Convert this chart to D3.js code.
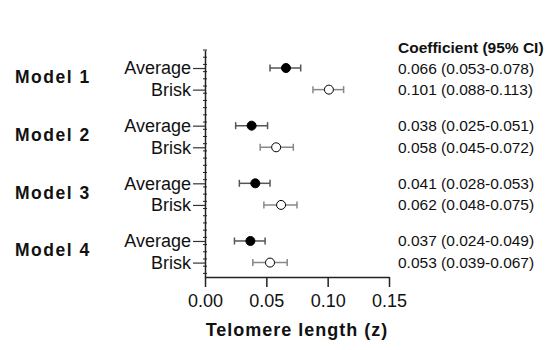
<!DOCTYPE html>
<html lang="en">
<head>
  <meta charset="UTF-8">
  <title>Telomere length forest plot</title>
  <script src="https://cdn.jsdelivr.net/npm/d3@7"></script>
  <style>
    body { margin: 0; background: #fff; }
    text { font-family: "Liberation Sans", Arial, sans-serif; fill: #111; }
  </style>
</head>
<body>
<svg></svg>
<script>
  const width = 554, height = 350

  const models = ['Model 1', 'Model 2', 'Model 3', 'Model 4']
  const groups = ['Average', 'Brisk']
  // one value per row: Model 1 Average, Model 1 Brisk, Model 2 Average ...
  const coef  = [0.066, 0.101, 0.038, 0.058, 0.041, 0.062, 0.037, 0.053]
  const lower = [0.053, 0.088, 0.025, 0.045, 0.028, 0.048, 0.024, 0.039]
  const upper = [0.078, 0.113, 0.051, 0.072, 0.053, 0.075, 0.049, 0.067]
  const xTicks = [0, 0.05, 0.10, 0.15]

  const rows = coef.map((c, i) => ({
    model: Math.floor(i / 2),
    group: groups[i % 2],
    coef: c, lo: lower[i], hi: upper[i],
    pos: 2.5 + 8 * Math.floor(i / 2) + 3 * (i % 2)
  }))

  const svg = d3.select('svg')
      .attr('width', width)
      .attr('height', height)
      .attr('viewBox', [0, 0, width, height])

  const x = d3.scaleLinear().domain([0, 0.15]).range([205, 389])
  const y = d3.scaleLinear().domain([0, 31.5]).range([50, 277])

  // x axis
  svg.append('g')
      .attr('transform', `translate(0,${y.range()[1]})`)
      .call(d3.axisBottom(x).tickValues(xTicks).tickFormat(d3.format('.2f')).tickSize(10).tickPadding(7).tickSizeOuter(0))
      .call(g => g.select('.domain').attr('stroke', '#222').attr('stroke-width', 1.5))
      .call(g => g.selectAll('.tick line').attr('stroke', '#222').attr('stroke-width', 1.5))
      .call(g => g.selectAll('.tick text').attr('font-size', 18).attr('fill', '#111')
          .style('font-family', '"Liberation Sans", Arial, sans-serif'))

  // y axis minor ticks
  svg.append('g')
      .selectAll('line')
      .data(d3.range(0, 32))
      .join('line')
      .attr('x1', x(0) - 2).attr('x2', x(0) + 2)
      .attr('y1', d => y(d)).attr('y2', d => y(d))
      .attr('stroke', '#222')

  // y axis with row labels
  svg.append('g')
      .attr('transform', `translate(${x(0)},0)`)
      .call(d3.axisLeft(y).tickValues(rows.map(d => d.pos))
          .tickFormat((d, i) => rows[i].group).tickSize(12).tickPadding(2).tickSizeOuter(0))
      .call(g => g.select('.domain').attr('stroke', '#222').attr('stroke-width', 1.5))
      .call(g => g.selectAll('.tick line').attr('stroke', '#333').attr('stroke-width', 1.2))
      .call(g => g.selectAll('.tick text').attr('font-size', 18).attr('fill', '#111')
          .style('font-family', '"Liberation Sans", Arial, sans-serif'))

  // model labels
  svg.append('g')
      .selectAll('text')
      .data(models)
      .join('text')
      .attr('x', 15)
      .attr('y', (d, i) => y(4 + 8 * i) + 4.5)
      .attr('font-size', 17.5)
      .attr('font-weight', 'bold')
      .attr('letter-spacing', 1.5)
      .text(d => d)

  // error bars
  const bars = svg.append('g')
      .selectAll('g')
      .data(rows)
      .join('g')
      .attr('stroke', d => d.group === 'Average' ? '#555' : '#888')
      .attr('stroke-width', 1.5)
  bars.append('line')
      .attr('x1', d => x(d.lo)).attr('x2', d => x(d.hi))
      .attr('y1', d => y(d.pos)).attr('y2', d => y(d.pos))
  bars.append('line')
      .attr('x1', d => x(d.lo)).attr('x2', d => x(d.lo))
      .attr('y1', d => y(d.pos) - 3.5).attr('y2', d => y(d.pos) + 3.5)
  bars.append('line')
      .attr('x1', d => x(d.hi)).attr('x2', d => x(d.hi))
      .attr('y1', d => y(d.pos) - 3.5).attr('y2', d => y(d.pos) + 3.5)

  // points
  svg.append('g')
      .selectAll('circle')
      .data(rows)
      .join('circle')
      .attr('cx', d => x(d.coef))
      .attr('cy', d => y(d.pos))
      .attr('r', 4.5)
      .attr('fill', d => d.group === 'Average' ? '#000' : '#fff')
      .attr('stroke', '#000')
      .attr('stroke-width', 1)

  // coefficient table
  svg.append('text')
      .attr('x', 398).attr('y', 53)
      .attr('font-size', 15.5)
      .attr('font-weight', 'bold')
      .text('Coefficient (95% CI)')

  const f = d3.format('.3f')
  svg.append('g')
      .selectAll('text')
      .data(rows)
      .join('text')
      .attr('x', 398)
      .attr('y', d => y(d.pos) + 5.5)
      .attr('font-size', 15.5)
      .text(d => `${f(d.coef)} (${f(d.lo)}-${f(d.hi)})`)

  // x axis title
  svg.append('text')
      .attr('x', (x(0) + x(0.15)) / 2)
      .attr('y', 336)
      .attr('text-anchor', 'middle')
      .attr('font-size', 18)
      .attr('font-weight', 'bold')
      .attr('letter-spacing', 1)
      .text('Telomere length (z)')
</script>
</body>
</html>
